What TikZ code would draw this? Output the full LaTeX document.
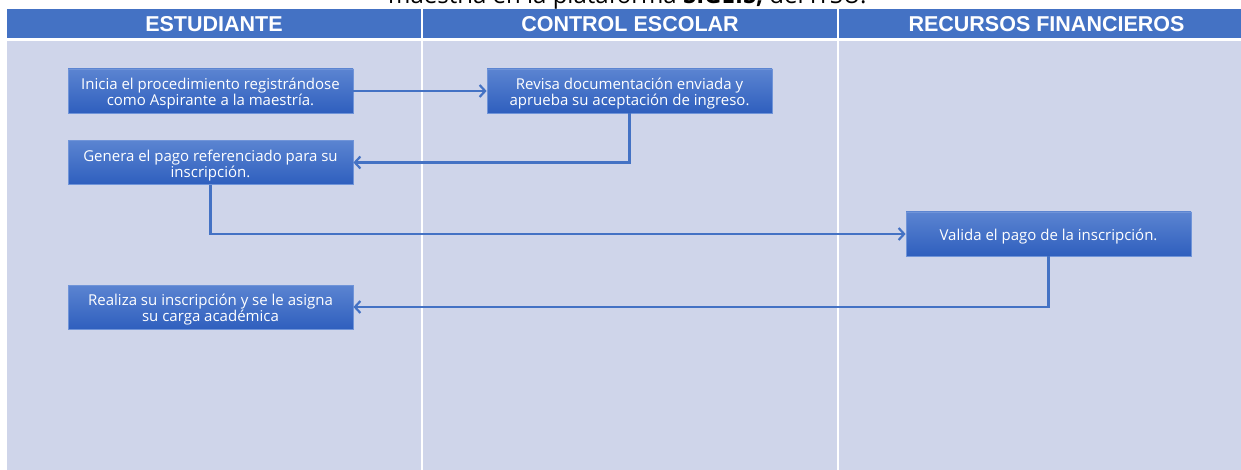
\documentclass[tikz,border=0pt]{standalone}
\usepackage{fontspec}
\setmainfont{Open Sans}
\newfontfamily\headfont{Liberation Sans}
\usetikzlibrary{arrows.meta,positioning,calc}

\definecolor{laneblue}{HTML}{4472C4}
\definecolor{lanefill}{HTML}{CFD5EA}
\definecolor{boxtop}{HTML}{5B84D1}
\definecolor{boxbot}{HTML}{2F5FBE}
\definecolor{boxline}{HTML}{7094D8}
\definecolor{flowline}{HTML}{4472C4}

\newcommand\tstrut{\rule{0pt}{17.5pt}}

\begin{document}
\begin{tikzpicture}[
		x = 1pt, y = -1pt,
		lanehead/.style={fill=laneblue},
		lanebody/.style={fill=lanefill},
		headtext/.style={text=white,font=\headfont\fontsize{21.5}{24}\selectfont\bfseries},
		task/.style={rectangle,draw=boxline,line width=0.8pt,top color=boxtop,bottom color=boxbot,
			text=white,align=center,minimum width=285pt,minimum height=44pt,inner sep=0pt,
			font=\fontsize{15}{16}\selectfont},
		post/.style={-{Straight Barb[length=5.5pt,width=12pt]},draw=flowline,line width=2.2pt}]

	\useasboundingbox (0,0) rectangle (1241,470);
	\fill[white] (0,0) rectangle (1241,470);

	% title line, cut by the page edge
	\begin{scope}
		\clip (0,0) rectangle (1241,470);
		\node[anchor=base west,inner sep=0pt,font=\fontsize{24}{28}\selectfont] (title) at (388,3.5)
			{maestría en la plataforma \textbf{SIGEIS,} del ITSU.};
	\end{scope}

	% lanes
	\path[lanehead] (7,9) rectangle (420.5,38);
	\path[lanehead] (423,9) rectangle (836.5,38);
	\path[lanehead] (838.5,9) rectangle (1241,38);
	\path[lanebody] (7,41) rectangle (420.5,470);
	\path[lanebody] (423,41) rectangle (836.5,470);
	\path[lanebody] (838.5,41) rectangle (1241,470);

	\node[headtext] (est) at (214,24.5) {ESTUDIANTE};
	\node[headtext] (ctl) at (630,24.5) {CONTROL ESCOLAR};
	\node[headtext] (rec) at (1046.5,24.5) {RECURSOS FINANCIEROS};

	% tasks
	\node[task] (ini) at (210.5,91) {\tstrut Inicia el procedimiento registrándose\\como Aspirante a la maestría.};
	\node[task] (rev) at (629.5,91) {\tstrut Revisa documentación enviada y\\aprueba su aceptación de ingreso.};
	\node[task] (gen) at (210.5,162.5) {\tstrut Genera el pago referenciado para su\\inscripción.};
	\node[task] (val) at (1048.5,234) {\tstrut Valida el pago de la inscripción.};
	\node[task] (rea) at (210.5,307) {\tstrut Realiza su inscripción y se le asigna\\su carga académica};

	\draw[post] (ini.east) -- (rev.west);
	\draw[post] (rev.south) |- (gen.east);
	\draw[post] (gen.south) |- (val.west);
	\draw[post] (val.south) |- (rea.east);
\end{tikzpicture}
\end{document}
